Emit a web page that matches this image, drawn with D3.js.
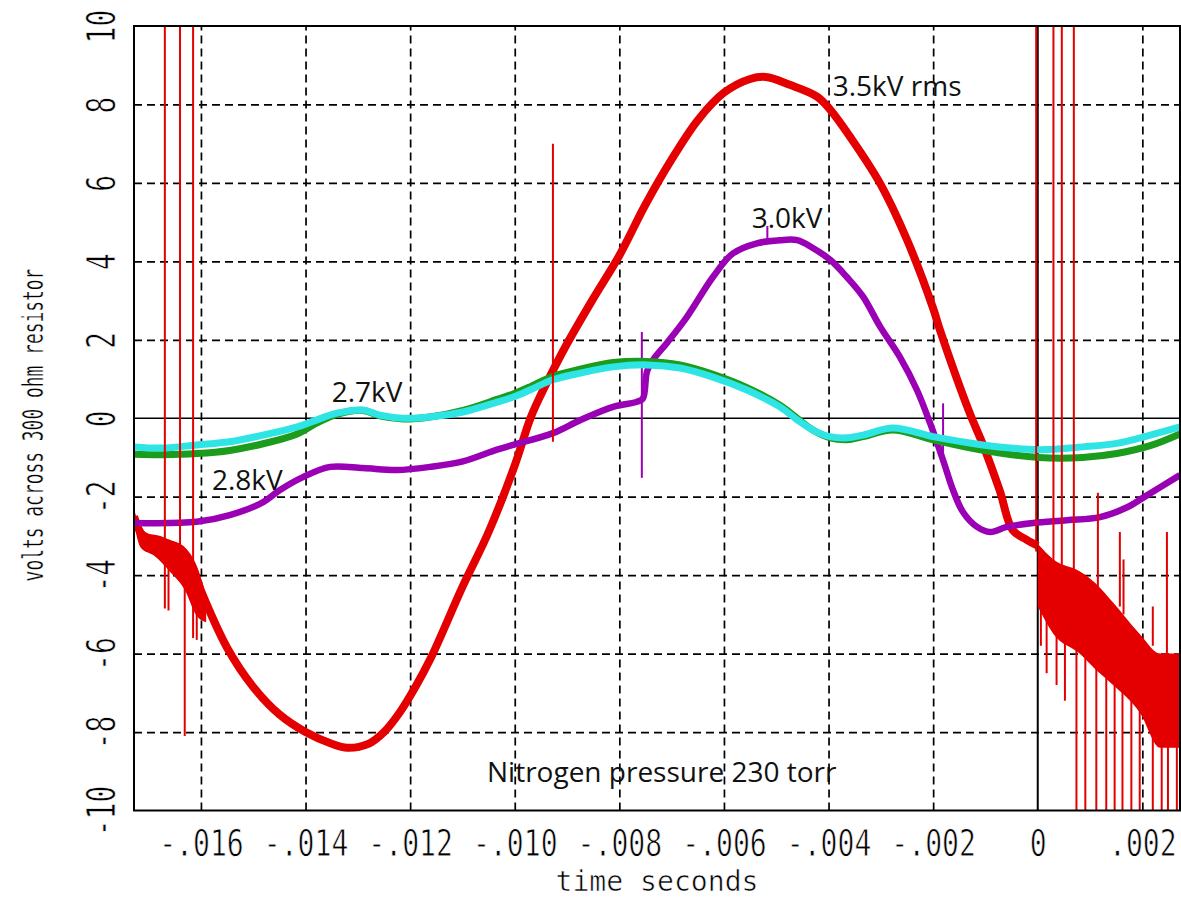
<!DOCTYPE html>
<html><head><meta charset="utf-8">
<script src="https://cdn.jsdelivr.net/npm/d3@7"></script>
<style>body{margin:0;background:#fff} svg{display:block}</style>
</head><body>
<svg id="c" width="1181" height="898"></svg>
<script>
// ---- axis ticks (time in ms, labels in seconds) ----
const xTickValues = [-16,-14,-12,-10,-8,-6,-4,-2,0,2];
const xTickLabels = ["-.016","-.014","-.012","-.010","-.008","-.006","-.004","-.002","0",".002"];
const yTickValues = [-10,-8,-6,-4,-2,0,2,4,6,8,10];
const yTickLabels = ["-10","-8","-6","-4","-2","0","2","4","6","8","10"];

// ---- red trace: 3.5kV rms ----
const redTime  = [-17.28,-17.1,-16.8,-16.5,-16.2,-16.0,-15.5,-15.0,-14.5,-14.0,-13.5,-13.2,-12.8,-12.5,-12.2,-11.9,-11.6,-11.0,-10.5,-10.0,-9.7,-9.5,-9.2,-9.0,-8.5,-8.0,-7.5,-7.0,-6.5,-6.0,-5.5,-5.2,-4.74,-4.22,-3.97,-3.59,-3.02,-2.5,-2.0,-1.87,-1.3,-1.06,-0.73,-0.48,-0.21,0];
const redVolts = [-2.5,-3.0,-3.1,-3.3,-3.7,-4.4,-5.85,-6.85,-7.55,-8.0,-8.3,-8.4,-8.3,-8.0,-7.5,-6.85,-6.1,-4.3,-2.9,-1.2,0.0,0.6,1.4,1.9,3.05,4.15,5.45,6.6,7.6,8.3,8.65,8.7,8.5,8.2,7.87,7.18,6.0,4.55,2.8,2.25,0.13,-0.63,-1.83,-2.85,-3.1,-3.25];
const redNoiseLeftTime  = [-17.28,-17.15,-16.9,-16.6,-16.3,-16.1,-15.9];
const redNoiseLeftUpper = [-2.3,-2.8,-3.0,-3.1,-3.3,-3.7,-4.5];
const redNoiseLeftLower = [-2.7,-3.3,-3.5,-3.9,-4.4,-5.0,-5.2];
const redNoiseRightTime  = [0,0.3,0.8,1.1,1.44,1.95,2.34,2.72];
const redNoiseRightUpper = [-3.2,-3.6,-3.9,-4.2,-4.7,-5.5,-6.0,-6.0];
const redNoiseRightLower = [-4.8,-5.5,-6.0,-6.4,-6.8,-7.5,-8.4,-8.4];
const redSpikeTime   = [-16.69,-16.40,-16.15,-16.31,-16.62,-16.08,-9.27,-0.03,0.30,0.46,0.69,0.06,0.17,0.36,0.52,0.74,0.91,1.12,1.31,1.47,1.62,1.79,1.95,2.20,2.37,2.49,2.66,1.15,1.57,1.64,2.20,2.47];
const redSpikeTop    = [10.5,10.5,10.5,-3.5,-3.3,-4.0,7.0,10.5,10.5,10.5,10.5,-3.6,-3.7,-3.8,-3.9,-5.0,-5.2,-5.5,-5.8,-6.0,-6.2,-6.4,-6.6,-7.0,-7.4,-7.6,-7.8,-1.9,-2.9,-3.6,-4.8,-2.9];
const redSpikeBottom = [-4.85,-3.6,-5.6,-8.1,-4.9,-5.65,-0.6,-3.4,-4.0,-4.2,-4.5,-5.8,-6.5,-6.8,-7.2,-10.5,-10.5,-10.5,-10.5,-10.5,-10.5,-10.5,-10.5,-10.5,-10.5,-10.5,-10.5,-4.5,-4.8,-5.0,-5.8,-6.2];

// ---- purple trace: 2.8kV / 3.0kV ----
const purpleTime  = [-17.28,-16.08,-15.45,-14.81,-14.49,-14.05,-13.53,-12.90,-12.25,-11.62,-10.99,-10.34,-10.03,-9.27,-8.75,-8.12,-7.66,-7.55,-7.47,-7.36,-7.09,-6.71,-6.21,-5.83,-5.37,-4.93,-4.60,-4.30,-3.97,-3.65,-3.34,-3.02,-2.64,-2.31,-2.06,-1.81,-1.62,-1.43,-1.16,-0.91,-0.59,-0.09,0.56,1.19,1.71,2.01,2.72];
const purpleVolts = [-2.67,-2.64,-2.47,-2.14,-1.83,-1.5,-1.24,-1.27,-1.32,-1.24,-1.1,-0.8,-0.68,-0.38,-0.05,0.29,0.42,0.5,1.2,1.48,1.92,2.58,3.6,4.2,4.46,4.54,4.54,4.34,4.04,3.6,3.1,2.35,1.57,0.72,-0.12,-1.07,-1.83,-2.39,-2.77,-2.9,-2.77,-2.67,-2.6,-2.52,-2.27,-2.03,-1.45];
const purpleSpikeTime   = [-7.57,-5.17,-1.81];
const purpleSpikeTop    = [2.2,4.9,0.38];
const purpleSpikeBottom = [-1.52,4.5,-1.0];

// ---- green and cyan traces: 2.7kV ----
const traceTime  = [-17.28,-16.73,-16.08,-15.45,-14.81,-14.16,-13.78,-13.40,-12.90,-12.58,-12.14,-11.62,-10.99,-10.34,-10.03,-9.71,-9.27,-8.75,-8.12,-7.47,-6.84,-6.21,-5.56,-4.93,-4.60,-4.30,-3.97,-3.65,-3.34,-2.77,-2.00,-1.05,0.02,0.86,1.51,2.15,2.72];
const greenVolts = [-0.92,-0.93,-0.9,-0.82,-0.65,-0.4,-0.12,0.1,0.2,0.06,-0.02,0.03,0.2,0.48,0.62,0.8,1.07,1.25,1.42,1.45,1.36,1.12,0.78,0.33,0.0,-0.3,-0.5,-0.55,-0.47,-0.3,-0.55,-0.82,-1.0,-1.0,-0.9,-0.7,-0.4];
const cyanVolts  = [-0.73,-0.76,-0.68,-0.6,-0.43,-0.22,-0.04,0.13,0.21,0.08,0.0,0.03,0.16,0.41,0.54,0.72,0.98,1.15,1.31,1.36,1.28,1.05,0.72,0.29,-0.04,-0.3,-0.47,-0.5,-0.43,-0.25,-0.47,-0.68,-0.8,-0.73,-0.64,-0.43,-0.22];

// ---- annotations ----
const noteText  = ["3.5kV rms","3.0kV","2.7kV","2.8kV","Nitrogen pressure 230 torr"];
const noteTime  = [-3.92,-5.47,-13.5,-15.79,-10.53];
const noteVolts = [8.22,4.85,0.41,-1.83,-9.27];

// ---- layout ----
const W=1181,H=898, L=134,R=1180,T=26,B=810.5;
const x=d3.scaleLinear().domain([-17.28,2.72]).range([L,R]);
const y=d3.scaleLinear().domain([-10,10]).range([B,T]);
const svg=d3.select('#c');
svg.append('rect').attr('width',W).attr('height',H).attr('fill','#fff');
svg.append('clipPath').attr('id','clip').append('rect').attr('x',L).attr('y',T).attr('width',R-L).attr('height',B-T);

const monoFont="'DejaVu Sans Mono', monospace";
// thin the monospace glyphs slightly with a white outline painted over the fill
function thin(sel, w){ sel.attr('stroke','#fff').attr('stroke-width',w).attr('paint-order','fill'); }

// grid
const gx=svg.append('g').attr('transform',`translate(0,${B})`)
  .call(d3.axisBottom(x).tickValues(xTickValues.filter(d=>d!==0)).tickSize(-(B-T)).tickFormat(''));
gx.select('.domain').remove();
gx.selectAll('line').attr('stroke','#000').attr('stroke-width',1.7).attr('stroke-dasharray','8,5');
const gy=svg.append('g').attr('transform',`translate(${L},0)`)
  .call(d3.axisLeft(y).tickValues(yTickValues.filter(d=>Math.abs(d)!==10&&d!==0)).tickSize(-(R-L)).tickFormat(''));
gy.select('.domain').remove();
gy.selectAll('line').attr('stroke','#000').attr('stroke-width',1.7).attr('stroke-dasharray','8,5');

// zero lines
svg.append('line').attr('x1',L).attr('x2',R).attr('y1',y(0)).attr('y2',y(0)).attr('stroke','#000').attr('stroke-width',1.5);
svg.append('line').attr('x1',x(0)).attr('x2',x(0)).attr('y1',T).attr('y2',B).attr('stroke','#000').attr('stroke-width',2);

// traces
const plot=svg.append('g').attr('clip-path','url(#clip)');
const curve=d3.curveCatmullRom.alpha(0.5);
const line=d3.line().x(d=>x(d[0])).y(d=>y(d[1])).curve(curve);
const area=d3.area().x(d=>x(d[0])).y0(d=>y(d[2])).y1(d=>y(d[1])).curve(d3.curveMonotoneX);
const RED='#e40000', PURPLE='#9a00b4', GREEN='#1c9c1c', CYAN='#2ee4e4';

plot.append('path').attr('d',area(redNoiseLeftTime.map((t,i)=>[t,redNoiseLeftUpper[i],redNoiseLeftLower[i]]))).attr('fill',RED);
plot.append('path').attr('d',area(redNoiseRightTime.map((t,i)=>[t,redNoiseRightUpper[i],redNoiseRightLower[i]]))).attr('fill',RED);
plot.append('path').attr('d',line(redTime.map((t,i)=>[t,redVolts[i]]))).attr('fill','none').attr('stroke',RED).attr('stroke-width',8).attr('stroke-linejoin','round');

plot.append('path').attr('d',line(purpleTime.map((t,i)=>[t,purpleVolts[i]]))).attr('fill','none').attr('stroke',PURPLE).attr('stroke-width',6.5).attr('stroke-linejoin','round');
plot.selectAll('.pspike').data(purpleSpikeTime).join('line').attr('class','pspike')
  .attr('x1',d=>x(d)).attr('x2',d=>x(d)).attr('y1',(d,i)=>y(purpleSpikeTop[i])).attr('y2',(d,i)=>y(purpleSpikeBottom[i]))
  .attr('stroke',PURPLE).attr('stroke-width',2);

plot.append('path').attr('d',line(traceTime.map((t,i)=>[t,greenVolts[i]]))).attr('fill','none').attr('stroke',GREEN).attr('stroke-width',7).attr('stroke-linejoin','round');
plot.append('path').attr('d',line(traceTime.map((t,i)=>[t,cyanVolts[i]]))).attr('fill','none').attr('stroke',CYAN).attr('stroke-width',7).attr('stroke-linejoin','round');

plot.selectAll('.rspike').data(redSpikeTime).join('line').attr('class','rspike')
  .attr('x1',d=>x(d)).attr('x2',d=>x(d)).attr('y1',(d,i)=>y(redSpikeTop[i])).attr('y2',(d,i)=>y(redSpikeBottom[i]))
  .attr('stroke',RED).attr('stroke-width',2);

// frame
svg.append('rect').attr('x',L).attr('y',T).attr('width',R-L).attr('height',B-T).attr('fill','none').attr('stroke','#000').attr('stroke-width',2);

// tick labels
const ax=svg.append('g').attr('transform',`translate(0,${B})`)
  .call(d3.axisBottom(x).tickValues(xTickValues).tickFormat((d,i)=>xTickLabels[i]).tickSize(0).tickPadding(0));
ax.select('.domain').remove();
ax.selectAll('text').attr('font-family',monoFont).attr('font-size',37).attr('fill','#000')
  .attr('y',0).attr('dy',0).attr('text-anchor','middle').attr('transform','translate(0,45) scale(0.76,1)').call(thin,0.8);
const ay=svg.append('g').attr('transform',`translate(${L},0)`)
  .call(d3.axisLeft(y).tickValues(yTickValues).tickFormat((d,i)=>yTickLabels[i]).tickSize(0).tickPadding(0));
ay.select('.domain').remove();
ay.selectAll('text').attr('font-family',monoFont).attr('font-size',39).attr('fill','#000')
  .attr('x',0).attr('dy',0).attr('text-anchor','middle').attr('transform','translate(-19,0) rotate(-90) scale(0.72,1)').call(thin,0.8);

// axis titles
svg.append('text').attr('font-family',monoFont).attr('font-size',29).attr('text-anchor','middle')
  .attr('transform',`translate(${(L+R)/2},891) scale(0.97,1)`).call(thin,0.6).text('time seconds');
svg.append('text').attr('font-family',monoFont).attr('font-size',28).attr('text-anchor','middle')
  .attr('transform',`translate(43,425) rotate(-90) scale(0.64,1)`).call(thin,0.4).text('volts across 300 ohm resistor');

// annotations
svg.selectAll('.note').data(noteText).join('text').attr('class','note')
  .attr('x',(d,i)=>x(noteTime[i])).attr('y',(d,i)=>y(noteVolts[i]))
  .attr('font-family',"'Open Sans', sans-serif").attr('font-size',28).attr('fill','#111').text(d=>d);
</script>
</body></html>
